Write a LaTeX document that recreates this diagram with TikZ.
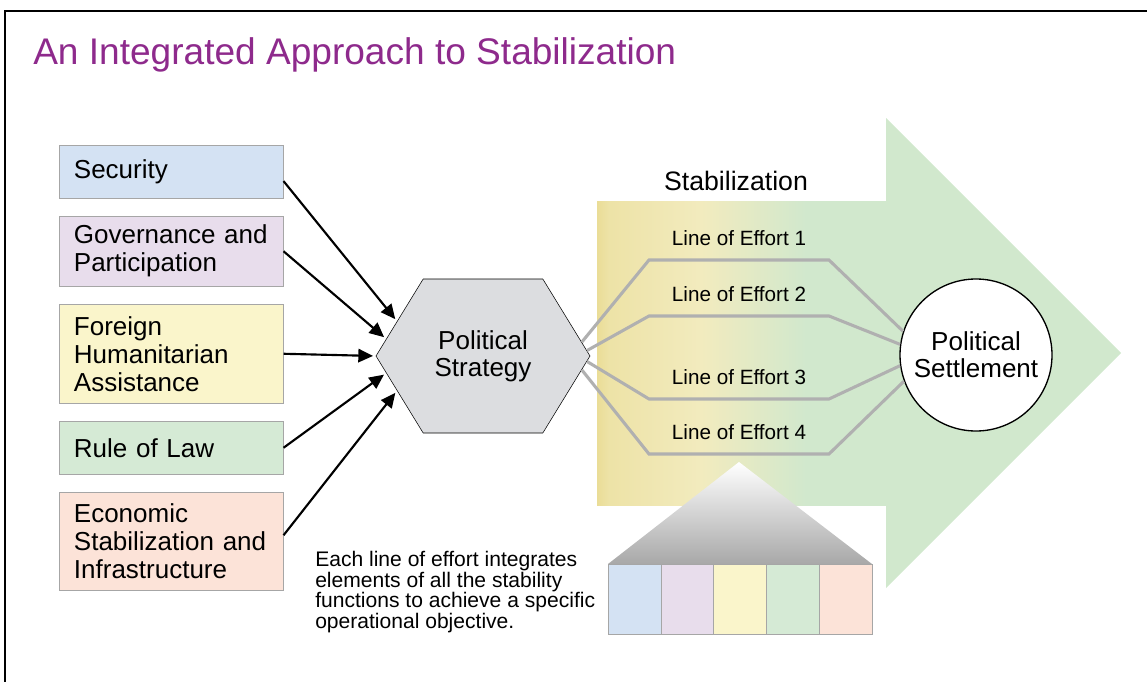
\documentclass[tikz,border=0pt]{standalone}
\usepackage{fontspec}
\setmainfont{Liberation Sans}
\usetikzlibrary{arrows.meta, shapes.symbols}

\definecolor{ttl}{RGB}{142,42,140}
\definecolor{secC}{RGB}{212,226,243}
\definecolor{govC}{RGB}{232,221,236}
\definecolor{fhaC}{RGB}{250,245,203}
\definecolor{rolC}{RGB}{213,234,213}
\definecolor{ecoC}{RGB}{252,227,216}
\definecolor{frm}{RGB}{166,166,166}
\definecolor{hexC}{RGB}{220,221,224}
\definecolor{loeC}{RGB}{176,176,176}
\definecolor{fanC}{RGB}{168,168,168}
\definecolor{stabY}{RGB}{234,221,151}
\definecolor{stabL}{RGB}{242,235,190}
\definecolor{stabG}{RGB}{209,232,205}
\pgfdeclarehorizontalshading{stabfade}{100bp}{color(0bp)=(stabY); color(25bp)=(stabY); color(27bp)=(stabY!60!stabL); color(43bp)=(stabL); color(61bp)=(stabG); color(100bp)=(stabG)}

\begin{document}
\begin{tikzpicture}[x=0.75pt, y=-0.75pt,
	fnc/.style={draw=frm, fill=#1, anchor=north west, minimum width=168pt, text width=146pt, inner xsep=11pt, align=left, font=\fontsize{19.5}{21}\selectfont},
	loe/.style={draw=loeC, line width=2.3pt},
	lbl/.style={above=6pt, font=\fontsize{15.5}{18}\selectfont},
	feed/.style={line width=1.6pt, shorten >=2pt, -{Triangle[length=11pt, width=10pt]}}]
	\useasboundingbox (0,0) rectangle (1147,682);
	\draw[line width=1.5pt] (1147,11) -- (5,11) -- (5,682);
	\node[anchor=base west, inner sep=0, text=ttl, font=\fontsize{27.8}{30}\selectfont] (title) at (33,64) {An Integrated Approach to Stabilization};
	\fill[stabG] (886,118) -- (1121,353) -- (886,588) -- cycle;
	\shade[shading=stabfade] (597,201) rectangle (887,505);
	\node[anchor=base, font=\fontsize{20}{22}\selectfont] (stab) at (736,190) {Stabilization};
	\node[fnc=secC, minimum height=39.75pt] (sec) at (59,145) {Security};
	\node[fnc=govC, minimum height=52.5pt] (gov) at (59,216) {Governance and\\Participation};
	\node[fnc=fhaC, minimum height=74.25pt] (fha) at (59,304) {Foreign\\Humanitarian\\Assistance};
	\node[fnc=rolC, minimum height=39.75pt] (rol) at (59,421) {Rule of Law};
	\node[fnc=ecoC, minimum height=73.5pt] (eco) at (59,492) {Economic\\Stabilization and\\Infrastructure};
	\node[signal, signal to=east and west, signal pointer angle=117, draw, fill=hexC, minimum width=160.5pt, minimum height=115.5pt, inner sep=0, align=center, font=\fontsize{19.5}{20.5}\selectfont] (pol) at (483,356) {Political\\Strategy};
	\node[circle, draw, line width=1pt, fill=white, minimum size=114pt, inner sep=0, align=center, font=\fontsize{19.5}{20.5}\selectfont] (set) at (976,355) {Political\\Settlement};
	\draw[feed] ([yshift=-7pt]sec.east) -- (pol.158);
	\draw[feed] (gov.east) -- (pol.170);
	\draw[feed] (fha.east) -- (pol.180);
	\draw[feed] (rol.east) -- (pol.190);
	\draw[feed] ([yshift=4.5pt]eco.east) -- (pol.202);
	\draw[loe] (pol.8) -- (649,260) -- node[lbl] {Line of Effort 1} (829,260) -- (set.162);
	\draw[loe] (pol.3) -- (649,316) -- node[lbl] {Line of Effort 2} (829,316) -- (set.172);
	\draw[loe] (pol.-3) -- (649,399) -- node[lbl] {Line of Effort 3} (829,399) -- (set.188);
	\draw[loe] (pol.-8) -- (649,454) -- node[lbl] {Line of Effort 4} (829,454) -- (set.200);
	\shade[top color=white, bottom color=fanC] (739,462) -- (872,564) -- (608,564) -- cycle;
	\foreach \c [count=\i from 0] in {secC,govC,fhaC,rolC,ecoC}
	  \draw[draw=frm, fill=\c] (608+52.8*\i,564) rectangle ++(52.8,70);
	\node[anchor=north west, align=left, inner sep=0, font=\fontsize{15.8}{15.4}\selectfont] (note) at (315,551) {Each line of effort integrates\\elements of all the stability\\functions to achieve a specific\\operational objective.};
\end{tikzpicture}
\end{document}
